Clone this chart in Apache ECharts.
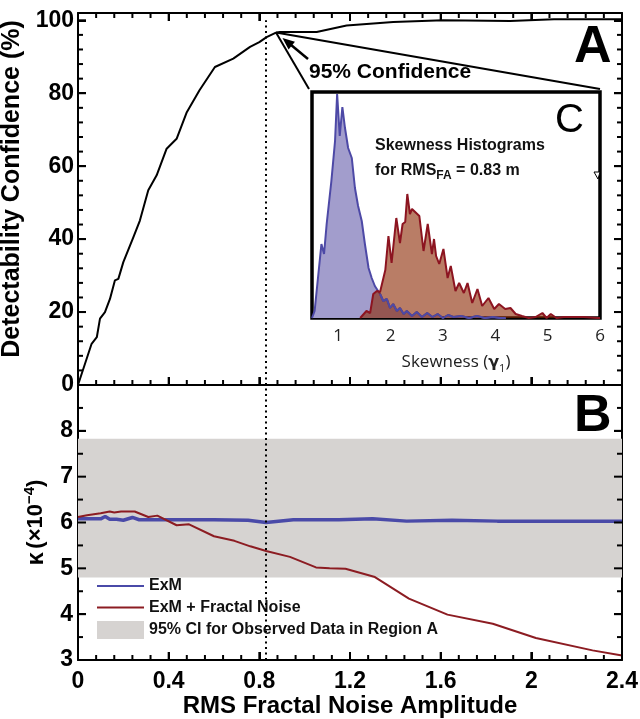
<!DOCTYPE html>
<html>
<head>
<meta charset="utf-8">
<script src="https://cdn.jsdelivr.net/npm/echarts@6/dist/echarts.min.js"></script>
<style>
html, body { margin: 0; padding: 0; background: #fff; }
#chart { width: 640px; height: 719px; }
</style>
</head>
<body>
<div id="chart"></div>
<script>
// Panel A: detectability confidence vs RMS fractal noise amplitude
const topX = [0, 0.06, 0.083, 0.097, 0.119, 0.141, 0.163, 0.178, 0.2, 0.244, 0.273, 0.31, 0.347, 0.391, 0.435, 0.48, 0.536, 0.604, 0.685, 0.759, 0.8, 0.832, 0.869, 0.89, 1.053, 1.185, 1.391, 1.611, 1.906, 2.1, 2.4];
const topY = [0, 11.3, 13.1, 18.2, 20, 23.6, 28.7, 29.1, 33.7, 40.5, 45.1, 53.4, 57.5, 64.8, 67.5, 74.8, 80.8, 87.2, 89.5, 92.7, 94.0, 95.4, 96.5, 96.8, 96.8, 98.6, 99.5, 100.0, 99.8, 100.3, 100.3];

// Panel B: kappa curves
const exmX = [0, 0.04, 0.1, 0.12, 0.14, 0.17, 0.2, 0.24, 0.27, 0.3, 0.4, 0.6, 0.75, 0.83, 0.95, 1.15, 1.3, 1.45, 1.65, 1.85, 2.1, 2.4];
const exmK = [6.08, 6.08, 6.08, 6.13, 6.07, 6.07, 6.05, 6.11, 6.06, 6.06, 6.06, 6.06, 6.05, 6.0, 6.06, 6.06, 6.08, 6.03, 6.05, 6.03, 6.03, 6.03];
const noiseX = [0, 0.04, 0.1, 0.14, 0.16, 0.19, 0.25, 0.31, 0.35, 0.435, 0.49, 0.6, 0.69, 0.76, 0.83, 0.935, 1.05, 1.11, 1.18, 1.31, 1.46, 1.63, 1.83, 2.02, 2.27, 2.4];
const noiseK = [6.12, 6.16, 6.2, 6.24, 6.22, 6.24, 6.24, 6.12, 6.15, 5.94, 5.96, 5.7, 5.6, 5.48, 5.38, 5.25, 5.02, 5.0, 4.99, 4.81, 4.34, 3.99, 3.79, 3.48, 3.21, 3.1];
const ciX = [0, 2.4];
const ciLow = 4.8;
const ciHigh = 7.83;
const RMS_MARK = 0.83;

// Panel C: skewness histograms
const blueSkew = [0.5, 0.55, 0.68, 0.73, 0.78, 0.87, 0.94, 0.98, 1.03, 1.08, 1.13, 1.19, 1.26, 1.32, 1.38, 1.45, 1.51, 1.58, 1.64, 1.70, 1.80, 1.86, 1.93, 1.99, 2.05, 2.12, 2.18, 2.25, 2.31, 2.41, 2.5, 2.6, 2.7, 2.8, 2.9, 3.0, 3.1, 3.2, 3.35, 3.5, 3.65, 3.8, 3.95, 4.1, 4.2];
const blueCount = [0, 7, 74, 64, 94, 137, 177, 224, 182, 211, 190, 170, 160, 130, 112, 97, 74, 50, 40, 32, 24, 17, 19, 10, 14, 7, 10, 4, 7, 2, 6, 1, 5, 1, 4, 0, 3, 1, 2, 0, 2, 0, 1, 0, 0];
const redSkew = [1.42, 1.54, 1.61, 1.67, 1.74, 1.80, 1.83, 1.90, 1.96, 2.02, 2.11, 2.18, 2.23, 2.28, 2.32, 2.37, 2.41, 2.55, 2.63, 2.71, 2.79, 2.83, 2.87, 2.93, 3.01, 3.09, 3.15, 3.24, 3.31, 3.40, 3.47, 3.56, 3.66, 3.75, 3.87, 3.98, 4.07, 4.19, 4.29, 4.39, 4.51, 4.64, 4.77, 4.90, 4.98, 5.06, 5.17, 5.31, 5.44, 5.69, 5.95, 6.0];
const redCount = [0, 7, 5, 24, 27, 26, 24, 48, 82, 55, 100, 75, 94, 96, 124, 104, 109, 102, 67, 94, 64, 79, 62, 54, 69, 40, 52, 27, 35, 25, 35, 15, 29, 12, 20, 9, 14, 9, 10, 4, 2, 0, 1, 5, 0, 4, 0, 1, 1, 1, 0, 0];
const skewTicks = [1, 2, 3, 4, 5, 6];

const FONT = 'Liberation Sans';

function zip(xs, ys) {
    return xs.map((x, i) => [x, ys[i]]);
}

function frameAxis(extra) {
    return Object.assign({
        type: 'value',
        axisLine: { show: true, onZero: false, lineStyle: { color: '#000', width: 2 } },
        splitLine: { show: false },
        axisLabel: { show: false },
        axisTick: { show: true, inside: true, length: 8, lineStyle: { color: '#000', width: 2 } }
    }, extra);
}

// inward frame ticks: [kind, value, length]; kind 0 = x both edges, 1 = x bottom only, 2 = y both edges
const ticksA = [];
const ticksB = [];
for (let i = 0; i <= 30; i++) {
    const len = i % 5 === 0 ? 8 : 5;
    ticksA.push([0, i * 0.08, len]);
    ticksB.push([1, i * 0.08, len]);
}
for (let v = 0; v <= 100; v += 4) ticksA.push([2, v, v % 20 === 0 ? 8 : 5]);
for (let i = 0; i < 12; i++) ticksB.push([2, 3 + i * 0.5, i % 2 === 0 ? 8 : 5]);

function tickItem(xr, yr) {
    return function (params, api) {
        const kind = api.value(0), v = api.value(1), len = api.value(2);
        const st = { stroke: '#000', lineWidth: 2 };
        const kids = [];
        if (kind === 2) {
            const l = api.coord([xr[0], v]), r = api.coord([xr[1], v]);
            kids.push({ type: 'line', shape: { x1: l[0], y1: l[1], x2: l[0] + len, y2: l[1] }, style: st });
            kids.push({ type: 'line', shape: { x1: r[0], y1: r[1], x2: r[0] - len, y2: r[1] }, style: st });
        } else {
            const b = api.coord([v, yr[0]]);
            kids.push({ type: 'line', shape: { x1: b[0], y1: b[1], x2: b[0], y2: b[1] - len }, style: st });
            if (kind === 0) {
                const t = api.coord([v, yr[1]]);
                kids.push({ type: 'line', shape: { x1: t[0], y1: t[1], x2: t[0], y2: t[1] + len }, style: st });
            }
        }
        return { type: 'group', children: kids };
    };
}

const boldLabel = { fontFamily: FONT, fontWeight: 'bold', fontSize: 23, color: '#000' };

function arrowHead(tail, tip, len, half) {
    const dx = tip[0] - tail[0], dy = tip[1] - tail[1];
    const d = Math.hypot(dx, dy);
    const ux = dx / d, uy = dy / d;
    const bx = tip[0] - ux * len, by = tip[1] - uy * len;
    return [tip, [bx - uy * half, by + ux * half], [bx + uy * half, by - ux * half]];
}

const arrowTail = [308, 59];
const arrowTip = [282.5, 38];
const hideSymbol = { color: 'rgba(0,0,0,0)', borderColor: 'rgba(0,0,0,0)', borderWidth: 0 };

let chart = echarts.init(document.getElementById('chart'));
let option = {
    animation: false,
    grid: [
        { left: 78, top: 13, width: 544, height: 372, outerBoundsMode: 'none' },
        { left: 78, top: 385, width: 544, height: 275, outerBoundsMode: 'none' },
        { left: 312, top: 92, width: 288, height: 226, outerBoundsMode: 'none', show: true, backgroundColor: '#fff', borderColor: '#000', borderWidth: 3.5 }
    ],
    xAxis: [
        frameAxis({ gridIndex: 0, min: 0, max: 2.4, interval: 0.4 }),
        frameAxis({ gridIndex: 0, min: 0, max: 2.4, interval: 0.4, position: 'top' }),
        frameAxis({
            gridIndex: 1, min: 0, max: 2.4, interval: 0.4,
            axisLabel: Object.assign({ show: true, margin: 10 }, boldLabel),
            name: 'RMS Fractal Noise Amplitude',
            nameLocation: 'middle',
            nameGap: 34,
            nameTextStyle: { fontFamily: FONT, fontWeight: 'bold', fontSize: 24, color: '#000' }
        }),
        {
            type: 'value', gridIndex: 2, min: 0.5, max: 6,
            axisLine: { show: false },
            splitLine: { show: false },
            axisTick: { show: false },
            axisLabel: { show: true, customValues: skewTicks, margin: 10, fontFamily: 'Open Sans', fontSize: 17, color: '#222' },
            name: '{t|Skewness (}{g|γ}{s|1}{t|)}',
            nameLocation: 'middle',
            nameGap: 33,
            nameTextStyle: {
                rich: {
                    t: { fontFamily: 'Open Sans', fontSize: 17, color: '#222' },
                    g: { fontFamily: 'DejaVu Sans', fontWeight: 'bold', fontSize: 16, color: '#222' },
                    s: { fontFamily: 'Open Sans', fontSize: 11, color: '#222', padding: [12, 0, 0, 0] }
                }
            }
        }
    ],
    yAxis: [
        frameAxis({
            gridIndex: 0, min: 0, max: 102, interval: 20,
            axisLabel: Object.assign({ show: true, margin: 4, showMaxLabel: false }, boldLabel),
            name: 'Detectability Confidence (%)',
            nameLocation: 'middle',
            nameGap: 33,
            nameTextStyle: { fontFamily: FONT, fontWeight: 'bold', fontSize: 25, color: '#000', padding: [0, 0, 0, 20] }
        }),
        frameAxis({ gridIndex: 0, min: 0, max: 102, interval: 20, position: 'right' }),
        frameAxis({
            gridIndex: 1, min: 3, max: 9, interval: 1,
            axisLabel: Object.assign({ show: true, margin: 5, showMaxLabel: false }, boldLabel),
            name: '{k|κ} {t|(×10}{sup|−4}{t|)}',
            nameLocation: 'middle',
            nameGap: 28,
            nameTextStyle: {
                rich: {
                    k: { fontFamily: FONT, fontWeight: 'bold', fontSize: 24, color: '#000' },
                    t: { fontFamily: FONT, fontWeight: 'bold', fontSize: 22, color: '#000' },
                    sup: { fontFamily: FONT, fontWeight: 'bold', fontSize: 15, color: '#000', padding: [0, 0, 13, 0] }
                }
            }
        }),
        frameAxis({ gridIndex: 1, min: 3, max: 9, interval: 1, position: 'right' }),
        { type: 'value', gridIndex: 2, min: 0, max: 226, show: false }
    ],
    legend: {
        orient: 'vertical',
        left: 96,
        top: 578,
        itemWidth: 47,
        itemHeight: 18,
        itemGap: 5.5,
        padding: 0,
        selectedMode: false,
        textStyle: { fontFamily: FONT, fontWeight: 'bold', fontSize: 16, color: '#111', backgroundColor: '#fff' },
        data: [
            { name: 'ExM', itemStyle: hideSymbol },
            { name: 'ExM + Fractal Noise', itemStyle: hideSymbol },
            { name: '95% CI for Observed Data in Region A', icon: 'rect', itemStyle: { color: '#d6d3d1' } }
        ]
    },
    series: [
        {
            type: 'custom',
            xAxisIndex: 0,
            yAxisIndex: 0,
            silent: true,
            clip: false,
            z: 10,
            renderItem: tickItem([0, 2.4], [0, 102]),
            data: ticksA
        },
        {
            type: 'custom',
            xAxisIndex: 2,
            yAxisIndex: 2,
            silent: true,
            clip: false,
            z: 10,
            renderItem: tickItem([0, 2.4], [3, 9]),
            data: ticksB
        },
        {
            type: 'line',
            xAxisIndex: 0,
            yAxisIndex: 0,
            data: zip(topX, topY),
            symbol: 'none',
            lineStyle: { color: '#000', width: 2 },
            markLine: {
                silent: true,
                symbol: 'none',
                label: { show: false },
                lineStyle: { color: '#000', width: 2, type: [2, 3.5] },
                data: [[{ coord: [RMS_MARK, 0] }, { coord: [RMS_MARK, 100] }]]
            }
        },
        {
            name: '95% CI for Observed Data in Region A',
            type: 'line',
            xAxisIndex: 2,
            yAxisIndex: 2,
            z: 1,
            data: ciX.map(x => [x, ciHigh]),
            symbol: 'none',
            itemStyle: { color: '#d6d3d1' },
            lineStyle: { width: 0, color: '#d6d3d1' },
            areaStyle: { color: '#d6d3d1', opacity: 1, origin: ciLow }
        },
        {
            name: 'ExM',
            type: 'line',
            xAxisIndex: 2,
            yAxisIndex: 2,
            data: zip(exmX, exmK),
            symbol: 'none',
            itemStyle: { color: '#4a4aa8' },
            lineStyle: { color: '#4a4aa8', width: 3.5 }
        },
        {
            name: 'ExM + Fractal Noise',
            type: 'line',
            xAxisIndex: 2,
            yAxisIndex: 2,
            data: zip(noiseX, noiseK),
            symbol: 'none',
            itemStyle: { color: '#8c1c22' },
            lineStyle: { color: '#8c1c22', width: 2 },
            markLine: {
                silent: true,
                symbol: 'none',
                label: { show: false },
                lineStyle: { color: '#000', width: 2, type: [2, 3.5] },
                data: [{ xAxis: RMS_MARK }]
            }
        },
        {
            type: 'line',
            xAxisIndex: 3,
            yAxisIndex: 4,
            z: 6,
            data: zip(blueSkew, blueCount),
            symbol: 'none',
            lineStyle: { color: '#4d49a6', width: 2 },
            areaStyle: { color: '#a29dcc', opacity: 1 }
        },
        {
            type: 'line',
            xAxisIndex: 3,
            yAxisIndex: 4,
            z: 7,
            data: zip(redSkew, redCount),
            symbol: 'none',
            lineStyle: { color: '#8c1420', width: 2 },
            areaStyle: { color: 'rgba(138, 38, 0, 0.6)', opacity: 1 }
        },
        {
            type: 'line',
            xAxisIndex: 3,
            yAxisIndex: 4,
            z: 8,
            data: zip(blueSkew, blueCount).filter(p => p[0] > 1.7),
            symbol: 'none',
            lineStyle: { color: '#4d49a6', width: 2 }
        }
    ],
    graphic: [
        { type: 'line', z: 20, shape: { x1: 276, y1: 32.5, x2: 309, y2: 89 }, style: { stroke: '#000', lineWidth: 2 } },
        { type: 'line', z: 20, shape: { x1: 276, y1: 32.5, x2: 600, y2: 89 }, style: { stroke: '#000', lineWidth: 2 } },
        { type: 'line', z: 20, shape: { x1: arrowTail[0], y1: arrowTail[1], x2: 289, y2: 43.3 }, style: { stroke: '#000', lineWidth: 2.5 } },
        { type: 'polygon', z: 20, shape: { points: arrowHead(arrowTail, arrowTip, 12, 5) }, style: { fill: '#000' } },
        { type: 'polygon', z: 20, shape: { points: [[594, 172], [600, 172], [598, 179]] }, style: { fill: '#fff', stroke: '#000', lineWidth: 1 } },
        { type: 'text', z: 20, x: 309, y: 72.5, style: { text: '95% Confidence', font: 'bold 21px "Liberation Sans"', fill: '#000', textVerticalAlign: 'middle' } },
        { type: 'text', z: 20, x: 574, y: 48, style: { text: 'A', font: 'bold 52px "Liberation Sans"', fill: '#000', textVerticalAlign: 'middle' } },
        { type: 'text', z: 20, x: 574, y: 417, style: { text: 'B', font: 'bold 52px "Liberation Sans"', fill: '#000', textVerticalAlign: 'middle' } },
        { type: 'text', z: 20, x: 555, y: 121, style: { text: 'C', font: '40px "Liberation Sans"', fill: '#000', textVerticalAlign: 'middle' } },
        { type: 'text', z: 20, x: 375, y: 146, style: { text: 'Skewness Histograms', font: 'bold 16px "Liberation Sans"', fill: '#111', textVerticalAlign: 'middle' } },
        {
            type: 'text', z: 20, x: 375, y: 160,
            style: {
                text: '{t|for RMS}{s|FA}{t| = 0.83 m}',
                rich: {
                    t: { font: 'bold 16px "Liberation Sans"', fill: '#111' },
                    s: { font: 'bold 12px "Liberation Sans"', fill: '#111', padding: [10, 0, 0, 0] }
                }
            }
        }
    ]
};
chart.setOption(option);
</script>
</body>
</html>
